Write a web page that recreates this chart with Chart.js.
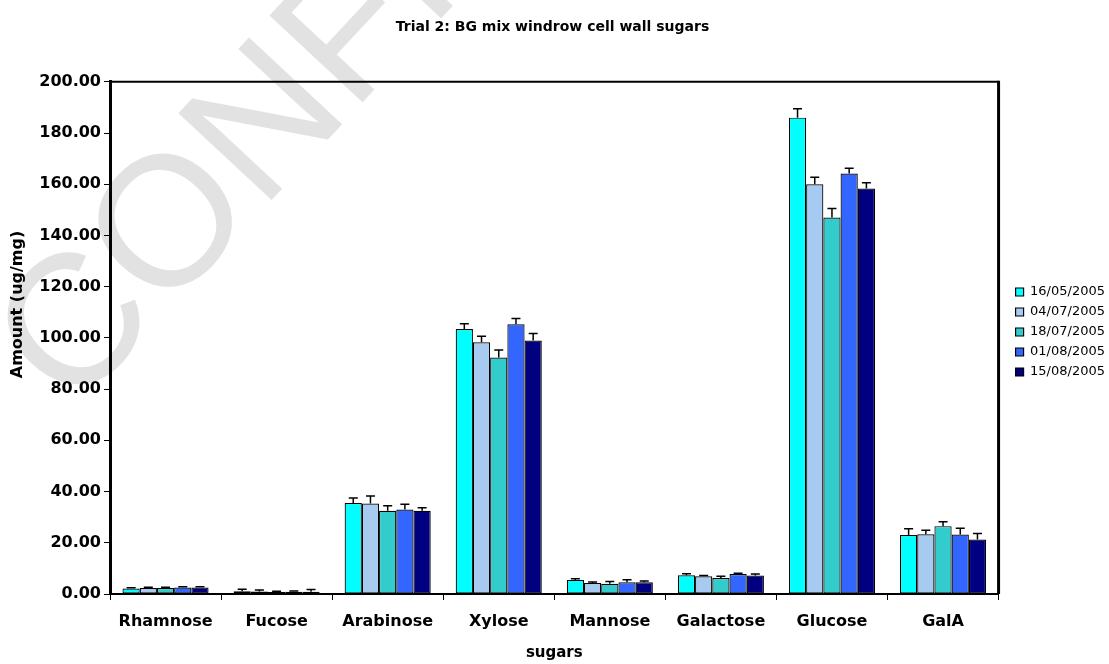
<!DOCTYPE html>
<html>
<head>
<meta charset="utf-8">
<script src="https://cdn.jsdelivr.net/npm/chart.js@4"></script>
<style>
  body { margin: 0; background: #fff; }
  #wrap { width: 1109px; height: 664px; position: relative; }
</style>
</head>
<body>
<div id="wrap"><canvas id="chart"></canvas></div>
<script>
// Data
const sugars = ['Rhamnose', 'Fucose', 'Arabinose', 'Xylose', 'Mannose', 'Galactose', 'Glucose', 'GalA'];
const dates = ['16/05/2005', '04/07/2005', '18/07/2005', '01/08/2005', '15/08/2005'];

const v1605 = [2.1, 1.1, 35.5, 103.5, 5.5, 7.3, 186.0, 23.0];
const v0407 = [2.3, 1.0, 35.3, 98.3, 4.3, 6.9, 160.0, 23.3];
const v1807 = [2.3, 0.8, 32.5, 92.3, 4.0, 6.2, 147.0, 26.5];
const v0108 = [2.5, 0.9, 33.0, 105.3, 4.6, 7.8, 164.2, 23.2];
const v1508 = [2.5, 0.9, 32.5, 99.0, 4.6, 7.2, 158.3, 21.3];

// error bar sizes (upper)
const e1605 = [0.3, 0.8, 2.0, 2.0, 0.5, 0.6, 3.5, 2.5];
const e0407 = [0.3, 0.6, 3.0, 2.3, 0.4, 0.3, 2.7, 1.6];
const e1807 = [0.3, 0.3, 2.0, 3.0, 0.9, 0.7, 3.5, 1.7];
const e0108 = [0.3, 0.3, 2.0, 2.3, 1.0, 0.3, 2.0, 2.5];
const e1508 = [0.3, 0.9, 1.2, 2.7, 0.5, 0.6, 2.3, 2.3];

const yTicks = [0, 20, 40, 60, 80, 100, 120, 140, 160, 180, 200];

const values = [v1605, v0407, v1807, v0108, v1508];
const errors = [e1605, e0407, e1807, e0108, e1508];
const colors = ['#00FFFF', '#A6CAF0', '#33CCCC', '#3366FF', '#000080'];

const FONT = "'DejaVu Sans', sans-serif";

// Grey watermark behind everything
const watermark = {
  id: 'watermark',
  beforeDraw(chart) {
    const ctx = chart.ctx;
    ctx.save();
    ctx.translate(72, 414);
    ctx.rotate(-47 * Math.PI / 180);
    ctx.font = "185px 'Liberation Sans', Arial, sans-serif";
    ctx.fillStyle = '#e2e2e2';
    ctx.textBaseline = 'alphabetic';
    ctx.fillText('CONFIDENTIAL', 0, 0);
    ctx.restore();
  }
};

// Error bars + plot frame
const errorBars = {
  id: 'errorBars',
  afterDatasetsDraw(chart) {
    const ctx = chart.ctx;
    const y = chart.scales.y;
    ctx.save();
    ctx.strokeStyle = '#000';
    ctx.lineWidth = 1.5;
    chart.data.datasets.forEach((ds, i) => {
      const meta = chart.getDatasetMeta(i);
      meta.data.forEach((bar, j) => {
        const top = y.getPixelForValue(ds.data[j] + errors[i][j]);
        ctx.beginPath();
        ctx.moveTo(bar.x, bar.y);
        ctx.lineTo(bar.x, top);
        ctx.moveTo(bar.x - 4.5, top);
        ctx.lineTo(bar.x + 4.5, top);
        ctx.stroke();
      });
    });
    const a = chart.chartArea;
    ctx.lineWidth = 2;
    ctx.beginPath();
    ctx.moveTo(a.left, a.top);
    ctx.lineTo(a.right, a.top);
    ctx.stroke();
    ctx.lineWidth = 3;
    ctx.beginPath();
    ctx.moveTo(a.right, a.top - 1);
    ctx.lineTo(a.right, a.bottom);
    ctx.stroke();
    ctx.restore();
  },
  afterLayout(chart) {
    // nudge the legend a bit right of the plot frame
    const lg = chart.legend;
    const shift = chart.chartArea.right + 10 - lg.left;
    lg.left += shift;
    lg.right += shift;
  }
};

new Chart(document.getElementById('chart'), {
  type: 'bar',
  data: {
    labels: sugars,
    datasets: dates.map((d, i) => ({
      label: d,
      data: values[i],
      backgroundColor: colors[i],
      borderColor: '#000',
      borderWidth: 1.2,
      borderSkipped: false,
      categoryPercentage: 0.775,
      barPercentage: 1
    }))
  },
  options: {
    responsive: true,
    maintainAspectRatio: false,
    animation: false,
    layout: { padding: { left: 0, right: 4, top: 0, bottom: 0 } },
    plugins: {
      title: {
        display: true,
        text: 'Trial 2: BG mix windrow cell wall sugars',
        color: '#000',
        font: { family: FONT, size: 14, weight: 'bold' },
        padding: { top: 19, bottom: 46 }
      },
      legend: {
        position: 'right',
        labels: {
          color: '#000',
          font: { family: FONT, size: 13 },
          boxWidth: 8,
          boxHeight: 8,
          padding: 7
        }
      },
      tooltip: { enabled: false }
    },
    scales: {
      x: {
        grid: { drawOnChartArea: false, color: '#000', tickLength: 6, offset: true },
        border: { color: '#000', width: 2 },
        ticks: { color: '#000', font: { family: FONT, size: 16, weight: 'bold' }, padding: 12 },
        title: {
          display: true, text: 'sugars', color: '#000',
          font: { family: FONT, size: 15, weight: 'bold' },
          padding: { top: 0, bottom: 2 }
        },
        afterFit(s) { s.height = 70; }
      },
      y: {
        min: 0,
        max: 200,
        afterBuildTicks(s) { s.ticks = yTicks.map(v => ({ value: v })); },
        grid: { drawOnChartArea: false, color: '#000', tickLength: 6 },
        border: { color: '#000', width: 3 },
        ticks: {
          color: '#000',
          font: { family: FONT, size: 16, weight: 'bold' },
          padding: 3,
          callback: v => v.toFixed(2)
        },
        title: {
          display: true, text: '            Amount (ug/mg)', color: '#000',
          font: { family: FONT, size: 16, weight: 'bold' },
          padding: { top: 8, bottom: 0 }
        },
        afterFit(s) { s.width = 110; }
      }
    }
  },
  plugins: [watermark, errorBars]
});
</script>
</body>
</html>
